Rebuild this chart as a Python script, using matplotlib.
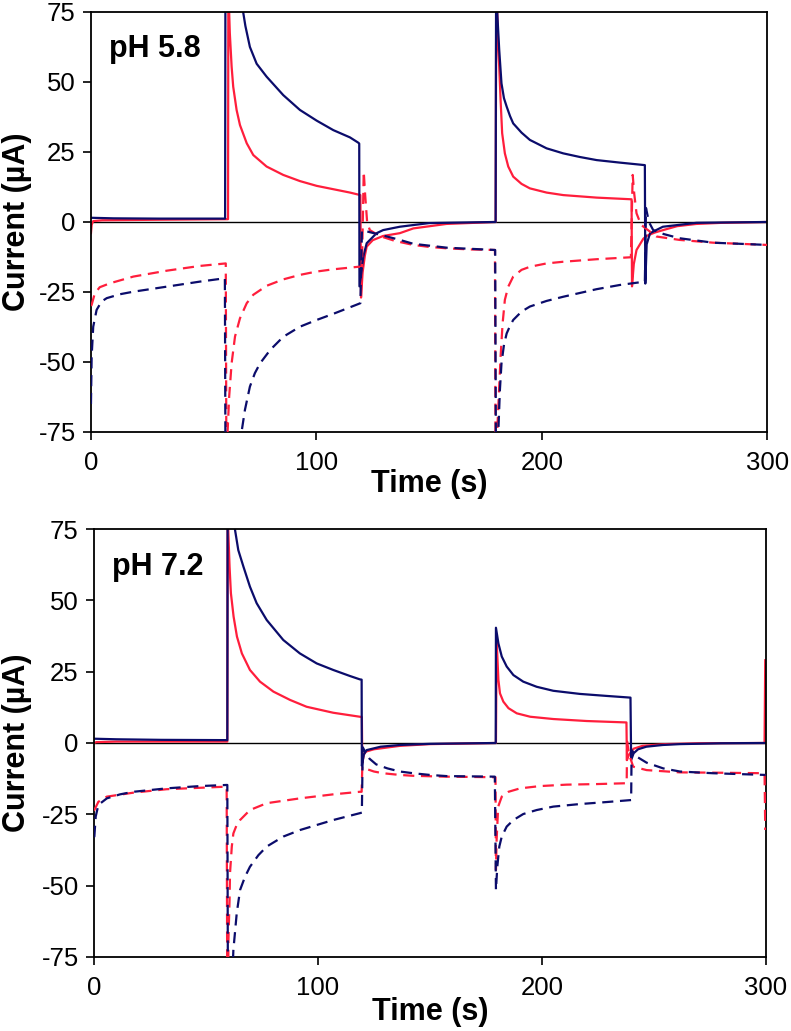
import matplotlib
matplotlib.use('Agg')
import matplotlib.pyplot as plt

# 字体
plt.rcParams['font.family'] = ['Liberation Sans', 'DejaVu Sans']
plt.rcParams['axes.unicode_minus'] = False

# 数据 (时间 s, 电流 µA), 从图中读取; 超出坐标范围的尖峰取估计值
ph58_red_solid = [(0, -4), (0.3, -1), (1, 0.3), (5, 0.6), (30, 0.8), (60.8, 1.0), (61.0, 120),
                  (61.3, 75), (61.6, 67.4), (62.4, 55.4), (63.1, 48.3), (64.6, 40), (66.1, 34.6),
                  (69.1, 28.1), (72, 23.9), (77.9, 19.8), (85.3, 16.8), (92.7, 14.6), (100.1, 12.9),
                  (107.5, 11.7), (114.9, 10.5), (119.5, 9.6), (119.8, -27), (120.5, -18), (121.5, -12),
                  (122.3, -8.8), (125, -6.5), (129.6, -5), (137, -4), (143, -2.3), (157.7, -0.7),
                  (179.5, 0), (179.9, 120), (180.2, 75), (180.7, 61.4), (181.1, 55.4), (181.7, 43.6),
                  (182.4, 31.7), (183.6, 24.5), (185.1, 19.8), (187.3, 16.2), (191, 13.6), (194.7, 12),
                  (202.1, 10.5), (209.5, 9.6), (224.3, 8.7), (239.8, 8.1), (240, -23), (240.8, -15),
                  (242, -10), (245, -6), (246.4, -5), (250, -3.8), (253.8, -2.9), (260, -1.5),
                  (268.6, -0.7), (280, -0.3), (300, 0)]
ph58_navy_solid = [(0, 1.5), (10, 1.3), (30, 1.2), (59.5, 1.2), (59.7, 120), (63, 100), (65.5, 85),
                   (67.5, 75), (68.5, 70), (70.5, 62.5), (73.5, 56.5), (77.9, 51.9), (85.3, 45.3),
                   (92.7, 40), (100.1, 36.2), (107.5, 32.8), (114.9, 30.2), (118.6, 28.3), (119, 28),
                   (119.1, -23), (120.8, -12.4), (122.3, -7.6), (126.7, -4), (129.6, -2.9), (137, -1.7),
                   (150, -0.4), (179.5, 0), (179.8, 120), (180.2, 75), (181.1, 61.4), (182.1, 49.5),
                   (183.2, 44.2), (184.4, 41.2), (185.9, 37.8), (187.3, 35.2), (191, 31.9), (194.7, 29.3),
                   (202.1, 26.3), (209.5, 24.5), (216.9, 23.2), (224.3, 22.1), (234.6, 21.2),
                   (245.7, 20.3), (245.9, -22), (246.5, -8), (248, -4), (253.7, -1.7), (268.6, -0.3),
                   (300, 0)]
ph58_red_dash = [(0, -30), (0.3, -29.6), (1.7, -25.5), (3.9, -23.3), (8.4, -21.9), (18.8, -19.5),
                 (33.6, -17.4), (48.3, -15.7), (59.8, -14.8), (60.2, -120), (60.6, -75), (61.3, -62.4),
                 (62.4, -50.4), (63.9, -40.9), (66.1, -34.4), (69.1, -29), (72, -26), (77.9, -22.8),
                 (85.3, -20.5), (92.7, -18.9), (100.1, -17.7), (107.5, -16.9), (118.6, -16),
                 (120.2, -16), (121, 18), (121.6, 10), (122.5, 0), (123.7, -2.9), (128, -5), (135, -6.8),
                 (143, -8.2), (150, -8.9), (157.7, -9.4), (168, -9.8), (179.2, -10), (179.6, -120),
                 (180.2, -75), (180.9, -62.4), (181.7, -48.1), (182.6, -36.2), (183.6, -27.8),
                 (185.1, -23.1), (187.3, -19.5), (191, -17.1), (194.7, -16), (202.1, -14.8),
                 (209.5, -14.2), (224.3, -13.3), (239.5, -12.6), (240.3, 16.8), (241, 10), (242, 3.1),
                 (244, -1), (246.4, -2.5), (250.9, -5.2), (261, -6.4), (276, -7.4), (300, -8.2)]
ph58_navy_dash = [(0, -65), (0.3, -48.1), (1, -37.4), (2.5, -31.4), (4.7, -28.4), (7, -27.2),
                  (12.9, -25.8), (18.8, -24.9), (33.6, -23.1), (48.3, -21.3), (59.4, -20.1),
                  (59.8, -120), (66.8, -75), (68.3, -67.1), (70.5, -58.8), (72.7, -54), (75, -50.5),
                  (79.5, -45.7), (85.3, -41), (92.7, -37.4), (100.1, -35), (107.5, -32.8),
                  (118.6, -29.3), (119.5, -29), (120.2, -3), (123, -3.5), (128, -4.5), (137, -6.4),
                  (143, -7.8), (158, -9.2), (179.3, -10), (179.8, -120), (180.7, -75), (181.4, -60),
                  (182.1, -50.5), (183.2, -43.9), (184.4, -39.8), (185.9, -37.1), (187.3, -35),
                  (191, -32), (194.7, -30.2), (202.1, -28.2), (209.5, -26.7), (224.3, -24),
                  (234.6, -22.5), (245.7, -21.3), (246.2, 5), (247.5, 0), (249.4, -2.9), (254, -4.3),
                  (261, -5.8), (276, -7.4), (300, -8.2)]

ph72_red_solid = [(0, 0), (1, 0.3), (10, 0.5), (59.5, 0.5), (59.7, 120), (59.9, 75), (60.5, 61.8),
                  (61.1, 52.5), (62.3, 44.3), (63.8, 37.3), (66, 31.4), (69.6, 25.6), (74.1, 21.5),
                  (80.1, 18), (87.5, 15.1), (94.9, 12.7), (106.8, 10.6), (118.7, 9.2), (119.6, 9.1),
                  (119.8, -7), (120.5, -4), (121.5, -3), (125, -2.2), (136.6, -1), (150, -0.4),
                  (179.5, 0), (179.8, 36), (180.6, 22.1), (181.3, 17.4), (182.8, 14.5), (185.1, 12.2),
                  (188.8, 10.4), (194.8, 9.2), (205.1, 8.4), (220, 7.7), (237.8, 7.2), (238, -6),
                  (239, -4), (241, -2), (245, -1), (255, -0.4), (270, -0.1), (299.5, 0), (299.8, 29)]
ph72_navy_solid = [(0, 1.5), (10, 1.3), (30, 1.1), (59.5, 1.0), (59.7, 120), (61.5, 90),
                   (62.9, 74.9), (64.4, 67.6), (66.7, 61.8), (69.6, 54.8), (72.6, 49), (77.1, 43.1),
                   (84.5, 36.1), (91.9, 31.4), (99.4, 27.9), (106.8, 25.6), (114.2, 23.5),
                   (118.7, 22.3), (119.5, 22.2), (119.6, -8), (120.5, -4), (121.7, -2.5), (128, -1.3),
                   (136.6, -0.7), (150, -0.3), (179.4, 0), (179.5, 40.4), (180.6, 34.9), (182.1, 30.3),
                   (184.3, 26.8), (187.3, 23.8), (191.7, 21.5), (197.7, 19.7), (205.1, 18.3),
                   (217, 17.2), (228.9, 16.5), (239.6, 15.9), (239.9, -6), (241, -3.6), (243, -2.2),
                   (246.7, -1.3), (254, -0.7), (261.6, -0.4), (280, -0.1), (300, 0)]
ph72_red_dash = [(0, -23.5), (0.1, -23.5), (1.9, -20.6), (5.7, -18.8), (17.6, -17.4), (32.4, -16.2),
                 (47.3, -15.7), (59.2, -15.3), (59.6, -120), (60, -69), (60.5, -55), (60.7, -45.7),
                 (61.5, -36.3), (62.2, -31.7), (63.7, -28.7), (65.2, -27), (69.6, -23.5),
                 (77.1, -21.1), (92, -19.4), (106.8, -18), (118.7, -17.1), (119.5, -17.1),
                 (119.8, -8.3), (122, -9.2), (125, -10), (129, -10.6), (136.6, -11.2), (142.5, -11.5),
                 (157, -11.8), (179.3, -12), (179.5, -44.5), (179.8, -34), (180.5, -22.3),
                 (182.1, -18.8), (185.1, -17.1), (190.3, -15.9), (199.2, -15.1), (211.1, -14.6),
                 (224.5, -14.4), (237.9, -14.1), (238.1, 0.5), (239, -4), (240.8, -8.3),
                 (246.8, -9.5), (261.7, -10.3), (276.5, -10.4), (299.5, -10.6), (299.8, -30.5)]
ph72_navy_dash = [(0, -32.8), (0.1, -32.8), (0.7, -25.8), (1.9, -21.7), (5.7, -19.4), (11.6, -18),
                  (17.6, -17.1), (32.4, -15.9), (47.3, -15.1), (59.5, -14.7), (59.9, -120),
                  (62.2, -72.6), (63.7, -59.7), (65.2, -51.5), (67.4, -46.9), (69.6, -43.4),
                  (73.4, -39.3), (77.1, -36.3), (84.5, -32.8), (92, -30.5), (106.8, -27),
                  (118.7, -24.6), (119.6, -24.4), (120, -1.5), (121, -3), (123, -5.5), (126, -7.5),
                  (131, -8.9), (136.6, -10), (142.5, -10.6), (150, -11.2), (157.4, -11.6), (179, -11.8),
                  (179.5, -51.5), (180.1, -43.4), (181, -36.3), (182.1, -32.8), (184.3, -29.3),
                  (187.3, -27), (191.7, -24.9), (197.7, -23.5), (205.1, -22.3), (217, -21.4),
                  (228.9, -20.7), (239.9, -20), (240.1, -2.5), (242.4, -4.8), (246.8, -6.9),
                  (254.2, -8.9), (261.7, -10), (276.5, -10.6), (300, -11.2)]

x_ticks = [0, 100, 200, 300]
y_ticks = [-75, -50, -25, 0, 25, 50, 75]
panel_labels = ['pH 5.8', 'pH 7.2']

RED = '#ff1e3c'
NAVY = '#0b0c6b'

fig = plt.figure(figsize=(7.91, 10.31), dpi=100)
ax1 = fig.add_axes([0.115, 0.581, 0.855, 0.4074])
ax2 = fig.add_axes([0.119, 0.0718, 0.849, 0.4151])

panels = [
    (ax1, ph58_red_solid, ph58_navy_solid, ph58_red_dash, ph58_navy_dash, panel_labels[0]),
    (ax2, ph72_red_solid, ph72_navy_solid, ph72_red_dash, ph72_navy_dash, panel_labels[1]),
]

for ax, rs, ns, rd, nd, label in panels:
    ax.axhline(0, color='black', lw=1.0, zorder=1)
    for series, color, dashed in [(rs, RED, False), (ns, NAVY, False), (rd, RED, True), (nd, NAVY, True)]:
        t = [p[0] for p in series]
        i = [p[1] for p in series]
        if dashed:
            ax.plot(t, i, color=color, lw=1.6, dashes=(5, 3), zorder=3)
        else:
            ax.plot(t, i, color=color, lw=1.6, zorder=2)
    ax.set_xlim(0, 300)
    ax.set_ylim(-75, 75)
    ax.set_xticks(x_ticks)
    ax.set_yticks(y_ticks)
    ax.tick_params(axis='both', direction='out', length=6, width=1.2, labelsize=18.5)
    ax.tick_params(axis='x', pad=7.5)
    ax.tick_params(axis='y', pad=5)
    for sp in ax.spines.values():
        sp.set_linewidth(1.3)
        sp.set_color('black')
    ax.set_xlabel('Time (s)', fontsize=22, fontweight='bold')
    ax.set_ylabel('Current (µA)', fontsize=22, fontweight='bold')
    ax.text(0.027, 0.893, label, transform=ax.transAxes, fontsize=22, fontweight='bold',
            ha='left', va='baseline')

ax1.xaxis.set_label_coords(0.5, -0.088)
ax2.xaxis.set_label_coords(0.5, -0.0935)
ax1.yaxis.set_label_coords(-0.087, 0.5)
ax2.yaxis.set_label_coords(-0.092, 0.5)

plt.savefig('out.png', dpi=100)
